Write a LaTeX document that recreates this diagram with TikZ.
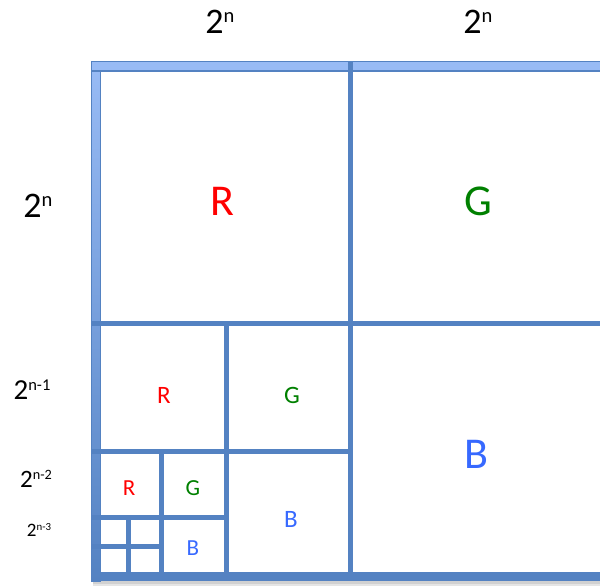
\documentclass[tikz,border=0pt]{standalone}
\usepackage{fontspec}
\setmainfont{Carlito}
\definecolor{gridblue}{RGB}{84,130,194}
\definecolor{lightblue}{RGB}{152,187,245}
\definecolor{rcol}{RGB}{255,0,0}
\definecolor{gcol}{RGB}{0,128,0}
\definecolor{bcol}{RGB}{55,105,255}
% power label: #1 base size, #2 exponent
\newcommand{\pwlabel}[2]{\fontsize{#1}{#1}\selectfont 2\raisebox{0.3em}{\fontsize{0.57\dimexpr #1\relax}{1pt}\selectfont #2}}
\begin{document}
\begin{tikzpicture}[x=1pt,y=-1pt,
  gridline/.style={draw=gridblue,line width=5pt},
  lbl/.style={inner sep=0pt,anchor=center},
  big/.style={lbl,font=\fontsize{44}{44}\selectfont},
  mid/.style={lbl,font=\fontsize{25}{25}\selectfont},
  small/.style={lbl,font=\fontsize{23}{23}\selectfont}]
\useasboundingbox (0,0) rectangle (600,588);
\clip (0,0) rectangle (600,588);
% shadow
\fill[black!18] (93,580) rectangle (610,584);
\fill[black!10] (93,584) rectangle (610,586);
% frame
\fill[gridblue] (91,572) rectangle (610,581);
\shade[top color=lightblue,bottom color=gridblue,draw=gridblue,line width=1pt] (91,62) rectangle (100,581);
\fill[lightblue,draw=gridblue,line width=1pt] (91,62) rectangle (610,72);
\draw[gridblue,line width=2pt] (91,71) -- (610,71);
% grid lines
\draw[gridline] (350.5,62) -- (350.5,581);
\draw[gridline] (91,323) -- (610,323);
\draw[gridline] (226.5,323) -- (226.5,581);
\draw[gridline] (91,451) -- (350.5,451);
\draw[gridline] (161,451) -- (161,581);
\draw[gridline] (91,517) -- (226.5,517);
\draw[gridline] (128.5,517) -- (128.5,581);
\draw[gridline] (91,546) -- (161,546);
% dimension labels
\node[lbl] (top1) at (220,22) {\pwlabel{36pt}{n}};
\node[lbl] (top2) at (478,22) {\pwlabel{36pt}{n}};
\node[lbl] (left1) at (38,206) {\pwlabel{36pt}{n}};
\node[lbl] (left2) at (32,390) {\pwlabel{29pt}{n-1}};
\node[lbl] (left3) at (36,479) {\pwlabel{25pt}{n-2}};
\node[lbl] (left4) at (39,530) {\pwlabel{19pt}{n-3}};
% colour letters
\node[big,text=rcol] (r1) at (222,201) {R};
\node[big,text=gcol] (g1) at (478,201) {G};
\node[big,text=bcol] (b1) at (476,454) {B};
\node[mid,text=rcol] (r2) at (164,395) {R};
\node[mid,text=gcol] (g2) at (292,395) {G};
\node[mid,text=bcol] (b2) at (291,519) {B};
\node[small,text=rcol] (r3) at (129,488) {R};
\node[small,text=gcol] (g3) at (193,488) {G};
\node[small,text=bcol] (b3) at (193,548) {B};
\end{tikzpicture}
\end{document}
